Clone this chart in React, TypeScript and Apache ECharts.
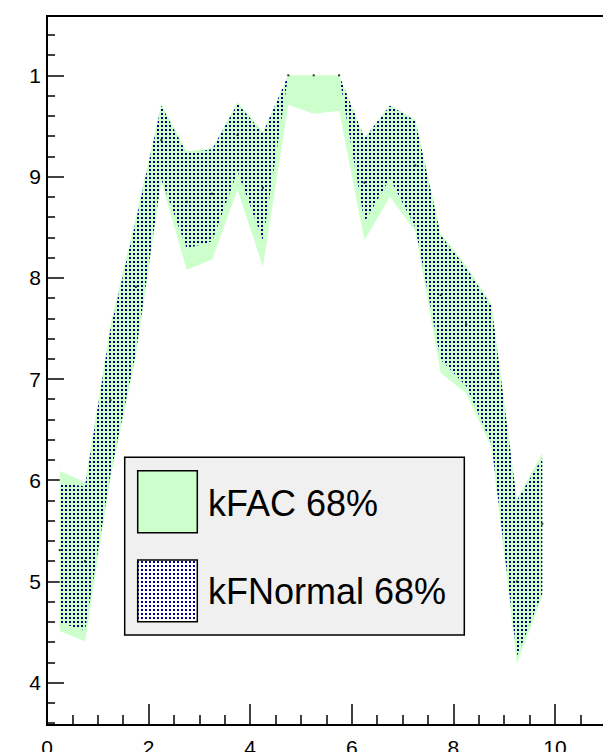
import React, { useEffect, useRef } from 'react';
import * as echarts from 'echarts';

// Bin centres
const xValues = [0.25, 0.75, 1.25, 1.75, 2.25, 2.75, 3.25, 3.75, 4.25, 4.75, 5.25, 5.75, 6.25, 6.75, 7.25, 7.75, 8.25, 8.75, 9.25, 9.75];

// kFAC 68% band
const facLow = [4.51, 4.41, 6.02, 7.22, 8.95, 8.08, 8.18, 8.87, 8.11, 9.71, 9.62, 9.65, 8.37, 8.8, 8.46, 7.06, 6.86, 6.32, 4.19, 4.85];
const facHigh = [6.09, 5.98, 7.54, 8.6, 9.72, 9.25, 9.28, 9.74, 9.44, 10.0, 10.0, 10.0, 9.38, 9.71, 9.56, 8.44, 8.12, 7.74, 5.81, 6.27];

// kFNormal 68% band
const normalLow = [4.59, 4.52, 6.06, 7.26, 8.97, 8.29, 8.36, 9.05, 8.37, 10.0, 10.0, 10.0, 8.55, 8.98, 8.5, 7.19, 6.93, 6.36, 4.26, 4.88];
const normalHigh = [5.97, 5.94, 7.5, 8.56, 9.7, 9.23, 9.27, 9.72, 9.43, 10.0, 10.0, 10.0, 9.38, 9.7, 9.55, 8.42, 8.1, 7.72, 5.8, 6.22];

// Central values (small markers)
const centralValues = [5.31, 5.2, 6.79, 7.91, 9.36, 8.75, 8.83, 9.41, 8.89, 10.0, 10.0, 10.0, 8.94, 9.38, 9.11, 7.83, 7.54, 7.05, 5.0, 5.57];

const legendLabels = ['kFAC 68%', 'kFNormal 68%'];
const yTickLabels: Record<string, string> = { '4': '4', '5': '5', '6': '6', '7': '7', '8': '8', '9': '9', '10': '1' };
const xTickLabels: Record<string, string> = { '0': '0', '2': '2', '4': '4', '6': '6', '8': '8', '10': '10' };

const FONT = "'Liberation Sans', Arial, Helvetica, sans-serif";
const GREEN = '#ccffcc';
const NAVY = '#000080';

function makeDotPattern(): string {
  const c = document.createElement('canvas');
  c.width = 4;
  c.height = 4;
  const ctx = c.getContext('2d');
  if (ctx) {
    ctx.fillStyle = NAVY;
    ctx.fillRect(1, 1, 2, 2);
  }
  return c.toDataURL();
}

export default function App() {
  const ref = useRef<HTMLDivElement>(null);

  useEffect(() => {
    if (!ref.current) return;
    const chart = echarts.init(ref.current, undefined, { renderer: 'svg' });
    const dotUrl = makeDotPattern();
    const dotFill: any = { image: dotUrl, repeat: 'repeat', imageWidth: 4, imageHeight: 4 };

    const bandRender = (low: number[], high: number[], fill: any) => (params: any, api: any) => {
      if (params.dataIndex !== 0) return null;
      const pts: number[][] = [];
      for (let i = 0; i < xValues.length; i++) pts.push(api.coord([xValues[i], high[i]]));
      for (let i = xValues.length - 1; i >= 0; i--) pts.push(api.coord([xValues[i], low[i]]));
      return { type: 'polygon', shape: { points: pts }, style: { fill, stroke: null } };
    };

    const option: any = {
      animation: false,
      backgroundColor: '#ffffff',
      grid: {
        left: 47,
        top: 16,
        bottom: 27,
        width: 558.8,
        containLabel: false,
        outerBoundsMode: 'none',
        show: true,
        borderColor: '#000',
        borderWidth: 2,
        backgroundColor: 'transparent',
      },
      xAxis: {
        type: 'value',
        min: 0,
        max: 11,
        interval: 2,
        axisLine: { show: true, lineStyle: { color: '#000', width: 2 } },
        axisTick: { show: true, inside: true, length: 21, lineStyle: { color: '#000', width: 1.5 } },
        minorTick: { show: true, splitNumber: 4, length: 10, lineStyle: { color: '#000', width: 1.5 } },
        splitLine: { show: false },
        axisLabel: {
          margin: 12,
          color: '#000',
          fontSize: 21,
          fontFamily: FONT,
          showMaxLabel: false,
          formatter: (v: number) => xTickLabels[String(Math.round(v * 1000) / 1000)] ?? '',
        },
      },
      yAxis: {
        type: 'value',
        min: 3.582,
        max: 10.586,
        splitNumber: 7,
        minInterval: 1,
        maxInterval: 1,
        axisLine: { show: true, lineStyle: { color: '#000', width: 2 } },
        axisTick: { show: true, inside: true, length: 17, lineStyle: { color: '#000', width: 1.5 } },
        minorTick: { show: true, splitNumber: 5, length: 8, lineStyle: { color: '#000', width: 1.5 } },
        splitLine: { show: false },
        axisLabel: {
          margin: 6,
          color: '#000',
          fontSize: 21,
          fontFamily: FONT,
          showMinLabel: false,
          showMaxLabel: false,
          formatter: (v: number) => yTickLabels[String(Math.round(v * 1000) / 1000)] ?? '',
        },
      },
      series: [
        {
          type: 'custom',
          name: legendLabels[0],
          data: xValues.map((x, i) => [x, facLow[i], facHigh[i]]),
          encode: { x: 0, y: [1, 2] },
          renderItem: bandRender(facLow, facHigh, GREEN),
          z: 2,
        },
        {
          type: 'custom',
          name: legendLabels[1],
          data: xValues.map((x, i) => [x, normalLow[i], normalHigh[i]]),
          encode: { x: 0, y: [1, 2] },
          renderItem: bandRender(normalLow, normalHigh, dotFill),
          z: 3,
        },
        {
          type: 'scatter',
          data: xValues.map((x, i) => [x, centralValues[i]]),
          symbol: 'rect',
          symbolSize: 2,
          itemStyle: { color: '#000' },
          z: 4,
        },
      ],
      graphic: [
        {
          type: 'rect',
          z: 100,
          shape: { x: 124.7, y: 457.3, width: 339.6, height: 177.7 },
          style: { fill: '#f0f0f0', stroke: '#000', lineWidth: 1.5 },
        },
        {
          type: 'rect',
          z: 101,
          shape: { x: 137.7, y: 470.7, width: 59.6, height: 62 },
          style: { fill: GREEN, stroke: '#000', lineWidth: 1.5 },
        },
        {
          type: 'rect',
          z: 101,
          shape: { x: 137.7, y: 560, width: 59.6, height: 61.7 },
          style: { fill: '#ffffff', stroke: null },
        },
        {
          type: 'rect',
          z: 102,
          shape: { x: 137.7, y: 560, width: 59.6, height: 61.7 },
          style: { fill: dotFill, stroke: '#000', lineWidth: 1.5 },
        },
        {
          type: 'text',
          z: 103,
          x: 208,
          y: 503.5,
          style: { text: legendLabels[0], fill: '#000', font: `36px ${FONT}`, textAlign: 'left', textVerticalAlign: 'middle' },
        },
        {
          type: 'text',
          z: 103,
          x: 208,
          y: 591.5,
          style: { text: legendLabels[1], fill: '#000', font: `36px ${FONT}`, textAlign: 'left', textVerticalAlign: 'middle' },
        },
      ],
    };

    chart.setOption(option);
    return () => chart.dispose();
  }, []);

  return (
    <div
      ref={ref}
      style={{ position: 'fixed', left: 0, top: 0, width: 603, height: 752, overflow: 'hidden', background: '#fff' }}
    />
  );
}
